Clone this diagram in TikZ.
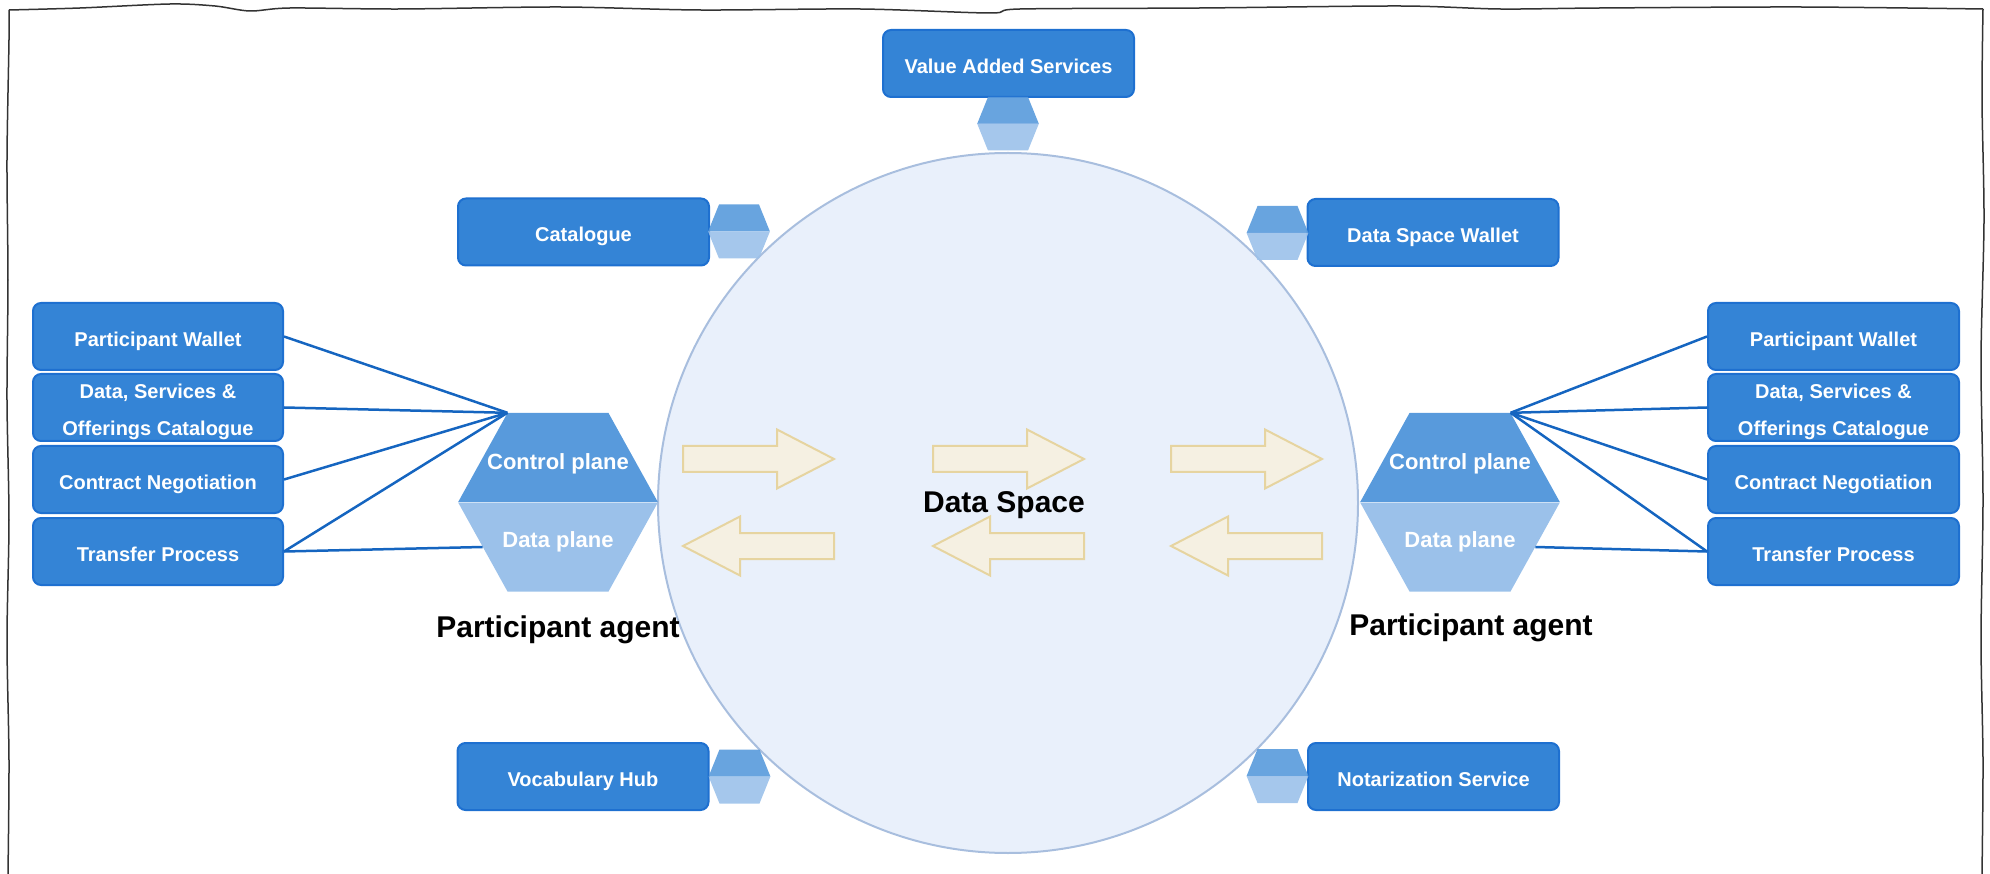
\documentclass[tikz,border=0pt]{standalone}
\usepackage{fontspec}
\setmainfont{Liberation Sans}
\usetikzlibrary{shapes.geometric}

\definecolor{boxblue}{RGB}{52,132,214}
\definecolor{boxedge}{RGB}{30,112,208}
\definecolor{hexdark}{RGB}{88,154,220}
\definecolor{hexlight}{RGB}{155,193,234}
\definecolor{linkblue}{RGB}{21,101,192}
\definecolor{dsfill}{RGB}{233,240,251}
\definecolor{dsedge}{RGB}{168,190,222}
\definecolor{flowfill}{RGB}{245,240,226}
\definecolor{flowedge}{RGB}{230,212,160}
\definecolor{framegray}{RGB}{51,51,51}

\tikzset{
  svc/.style={rectangle, rounded corners=8pt, draw=boxedge, line width=2pt, fill=boxblue,
    text=white, align=center, minimum width=251pt, minimum height=67pt, inner sep=0pt,
    text height=20pt, text depth=0pt, font=\fontsize{20}{37}\selectfont\bfseries},
  twoline/.style={text height=57pt, text depth=0pt},
  dspace/.style={circle, minimum size=700pt, inner sep=0pt, fill=dsfill, draw=dsedge,
    line width=2pt},
  ctrl/.style={trapezium, trapezium angle=61, inner xsep=50.5pt, inner ysep=44.5pt, fill=hexdark},
  datap/.style={ctrl, shape border rotate=180, fill=hexlight},
  plug/.style={trapezium, trapezium angle=68, inner xsep=20pt, inner ysep=13.5pt,
    fill=hexdark, fill opacity=0.9},
  plugb/.style={plug, shape border rotate=180, fill=hexlight},
  planetxt/.style={text=white, font=\fontsize{22}{26}\selectfont\bfseries},
  agentlbl/.style={font=\fontsize{30}{36}\selectfont\bfseries},
  link/.style={draw=linkblue, line width=2.5pt},
  frame/.style={draw=framegray, line width=1.5pt},
  flow/.pic={\draw[fill=flowfill, draw=flowedge, line width=2pt] (-75.5,-13) -- (18.5,-13)
    -- (18.5,-29.5) -- (75.5,0) -- (18.5,29.5) -- (18.5,13) -- (-75.5,13) -- cycle;}
}

\begin{document}
\begin{tikzpicture}[x=1pt,y=-1pt]
  \useasboundingbox (0,0) rectangle (1990,874);

  % sketchy frame
  \draw[frame] plot[smooth] coordinates {(8,874) (9,760) (7,640) (9,520) (7,400) (8,280)
    (7,160) (9,40) (9,10)};
  \draw[frame] plot[smooth] coordinates {(9,10) (80,8) (170,4) (215,6) (250,11) (290,8)
    (400,9) (560,7) (700,10) (860,9) (990,13) (1020,9) (1200,8) (1400,6) (1500,9)
    (1600,8) (1800,7) (1983,9)};
  \draw[frame] plot[smooth] coordinates {(1983,9) (1982,100) (1984,220) (1981,360)
    (1983,500) (1981,640) (1983,760) (1982,874)};

  % data space
  \node[dspace] (ds) at (1008,503) {};
  \node[agentlbl] (dsl) at (1004,505) {Data Space};
  \pic at (758.5,459) {flow};
  \pic at (1008.5,459) {flow};
  \pic at (1246.5,459) {flow};
  \pic[rotate=180] at (758.5,546) {flow};
  \pic[rotate=180] at (1008.5,546) {flow};
  \pic[rotate=180] at (1246.5,546) {flow};

  % services round the data space
  \node[svc] (vas) at (1008.5,63.5) {Value Added Services};
  \node[svc] (cat) at (583.5,232) {Catalogue};
  \node[svc] (dsw) at (1433,232.5) {Data Space Wallet};
  \node[svc] (voc) at (583,776.5) {Vocabulary Hub};
  \node[svc] (nots) at (1433.5,776.5) {Notarization Service};
  \node[plug] (vasA) at (1008,110.5) {};
  \node[plugb] (vasB) at (1008,137) {};
  \node[plug] (catA) at (739,218) {};
  \node[plugb] (catB) at (739,245) {};
  \node[plug] (dswA) at (1277.5,219.5) {};
  \node[plugb] (dswB) at (1277.5,246.5) {};
  \node[plug] (vocA) at (739.5,763) {};
  \node[plugb] (vocB) at (739.5,790) {};
  \node[plug] (notA) at (1277.5,762.5) {};
  \node[plugb] (notB) at (1277.5,789.5) {};

  % left participant agent
  \node[ctrl] (cpL) at (558,457.5) {};
  \node[datap] (dpL) at (558,547) {};
  \node[planetxt] (cpLt) at (558,464) {Control plane};
  \node[planetxt] (dpLt) at (558,542) {Data plane};
  \node[agentlbl] (agL) at (558,630) {Participant agent};
  \node[svc, minimum width=250pt] (pwL) at (158,336.5) {Participant Wallet};
  \node[svc, twoline, minimum width=250pt] (dsocL) at (158,407.5) {Data, Services \&\\ Offerings Catalogue};
  \node[svc, minimum width=250pt] (cnL) at (158,479.5) {Contract Negotiation};
  \node[svc, minimum width=250pt] (tpL) at (158,551.5) {Transfer Process};
  \draw[link] (cpL.top left corner) -- (pwL.east);
  \draw[link] (cpL.top left corner) -- (dsocL.east);
  \draw[link] (cpL.top left corner) -- (cnL.east);
  \draw[link] (cpL.top left corner) -- (tpL.east);
  \draw[link] (dpL.180) -- (tpL.east);

  % right participant agent
  \node[ctrl] (cpR) at (1460,457.5) {};
  \node[datap] (dpR) at (1460,547) {};
  \node[planetxt] (cpRt) at (1460,464) {Control plane};
  \node[planetxt] (dpRt) at (1460,542) {Data plane};
  \node[agentlbl] (agR) at (1471,628) {Participant agent};
  \node[svc] (pwR) at (1833.5,336.5) {Participant Wallet};
  \node[svc, twoline] (dsocR) at (1833.5,407.5) {Data, Services \&\\ Offerings Catalogue};
  \node[svc] (cnR) at (1833.5,479.5) {Contract Negotiation};
  \node[svc] (tpR) at (1833.5,551.5) {Transfer Process};
  \draw[link] (cpR.top right corner) -- (pwR.west);
  \draw[link] (cpR.top right corner) -- (dsocR.west);
  \draw[link] (cpR.top right corner) -- (cnR.west);
  \draw[link] (cpR.top right corner) -- (tpR.west);
  \draw[link] (dpR.0) -- (tpR.west);
\end{tikzpicture}
\end{document}
